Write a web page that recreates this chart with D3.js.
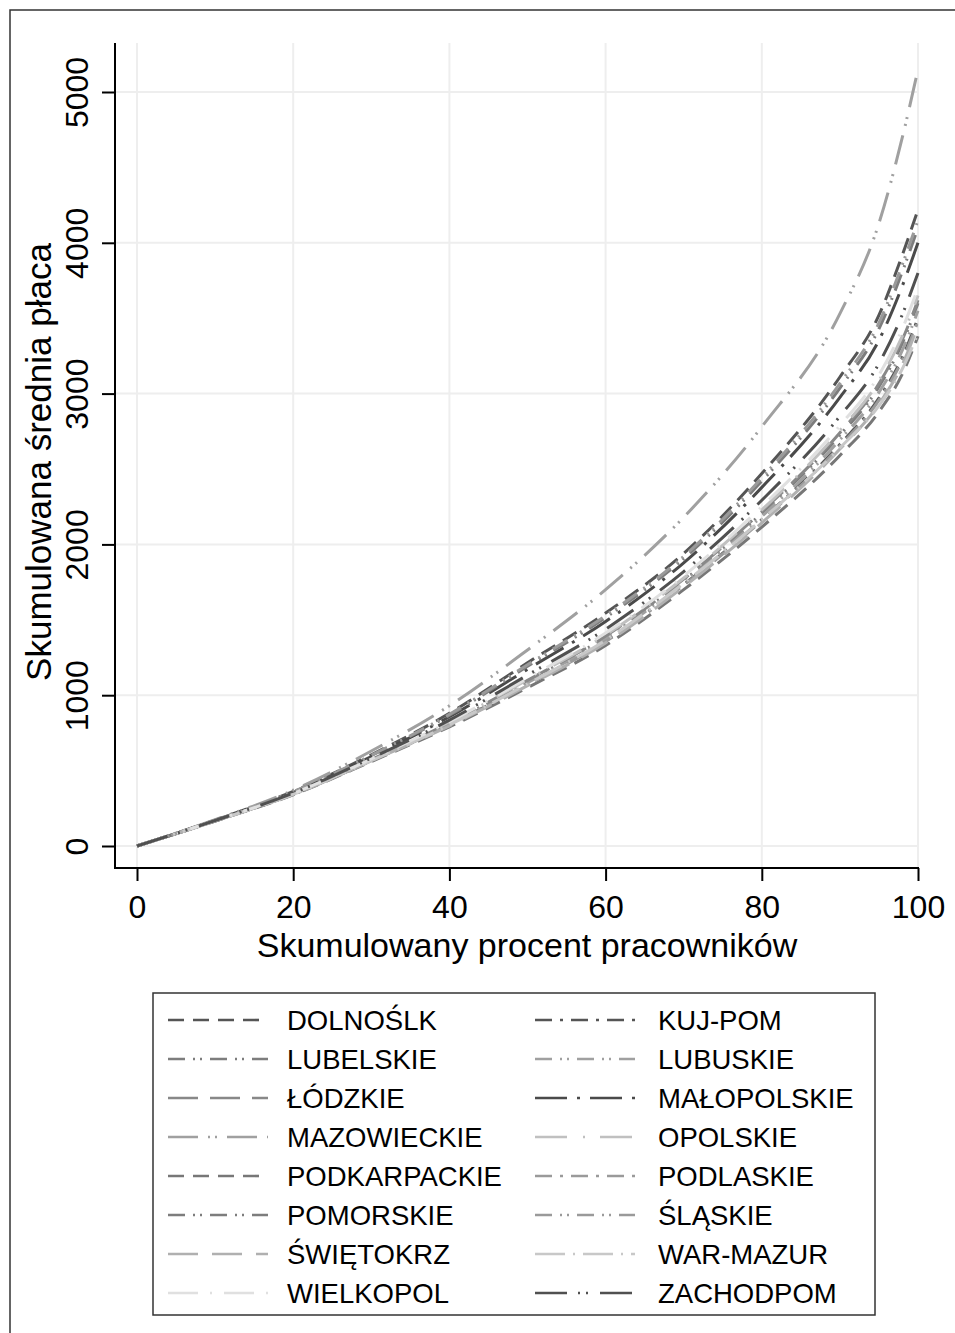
<!DOCTYPE html>
<html><head><meta charset="utf-8">
<script src="https://cdn.jsdelivr.net/npm/d3@7"></script>
<style>
body{margin:0;background:#fff}
text{font-family:"Liberation Sans",Arial,Helvetica,sans-serif;fill:#000}
</style>
</head><body>
<svg id="c" width="955" height="1333"></svg>
<script>
// Cumulative percent of workers (x positions of the read points)
const xPoints = [0,10,20,30,40,50,60,70,80,90,95,98,100];
const xTicks = [0,20,40,60,80,100];
const yTicks = [0,1000,2000,3000,4000,5000];

const regions = ["DOLNOŚLK","KUJ-POM","LUBELSKIE","LUBUSKIE","ŁÓDZKIE","MAŁOPOLSKIE",
  "MAZOWIECKIE","OPOLSKIE","PODKARPACKIE","PODLASKIE","POMORSKIE","ŚLĄSKIE",
  "ŚWIĘTOKRZ","WAR-MAZUR","WIELKOPOL","ZACHODPOM"];

const dolnoslk     = [0,172,362,605,880,1215,1545,1940,2470,3110,3520,3920,4220];
const kujpom       = [0,166,343,566,803,1073,1360,1734,2165,2663,2970,3241,3500];
const lubelskie    = [0,167,346,572,813,1093,1386,1762,2207,2725,3046,3335,3600];
const lubuskie     = [0,166,344,569,808,1083,1373,1748,2186,2694,3008,3288,3550];
const lodzkie      = [0,167,346,573,816,1098,1392,1770,2218,2741,3066,3359,3620];
const malopolskie  = [0,170,356,593,857,1172,1489,1878,2378,2975,3354,3715,4000];
const mazowieckie  = [0,175,370,630,930,1300,1700,2180,2780,3530,4130,4700,5150];
const opolskie     = [0,167,347,574,819,1103,1399,1777,2229,2756,3085,3383,3650];
const podkarpackie = [0,165,340,560,790,1050,1330,1700,2115,2590,2880,3130,3380];
const podlaskie    = [0,166,343,565,801,1070,1356,1729,2158,2652,2957,3225,3480];
const pomorskie    = [0,171,359,599,867,1192,1515,1906,2420,3037,3430,3809,4100];
const slaskie      = [0,171,360,601,873,1202,1528,1921,2442,3068,3469,3857,4150];
const swietokrz    = [0,166,342,564,797,1063,1347,1719,2143,2632,2931,3193,3450];
const warmazur     = [0,166,343,566,803,1075,1365,1742,2165,2640,2920,3165,3400];
const wielkopol    = [0,168,348,577,824,1113,1412,1791,2250,2788,3123,3430,3700];
const zachodpom    = [0,169,351,583,835,1133,1438,1820,2293,2850,3200,3525,3800];

const seriesValues = [dolnoslk,kujpom,lubelskie,lubuskie,lodzkie,malopolskie,mazowieckie,
  opolskie,podkarpackie,podlaskie,pomorskie,slaskie,swietokrz,warmazur,wielkopol,zachodpom];

const colors = ["#555","#555","#7d7d7d","#a0a0a0","#888","#4a4a4a","#a0a0a0","#c0c0c0",
  "#777","#9a9a9a","#7d7d7d","#9a9a9a","#b0b0b0","#c8c8c8","#e0e0e0","#505050"];
const dashes = ["16,9","17,8,3,8","17,8,2,5,2,8","17,8,2,5,2,8","30,12","32,10,3,10",
  "30,10,2,5,2,10","32,16,2,15","16,9","17,8,3,8","17,8,2,5,2,8","17,8,2,5,2,8",
  "30,14","30,8,2,8","30,12,2,12","32,11,2,6,2,12"];

const svg = d3.select("#c");
svg.append("rect").attr("x",10).attr("y",10).attr("width",1000).attr("height",1400)
  .attr("fill","none").attr("stroke","#333").attr("stroke-width",1.5);

const x = d3.scaleLinear().domain([0,100]).range([137,918]);
const y = d3.scaleLinear().domain([0,5000]).range([846,92]);
const plotLeft = 115, plotBottom = 868, plotTop = 43, plotRight = 918;

// gridlines
svg.append("g").selectAll("line").data(yTicks).join("line")
  .attr("x1",plotLeft).attr("x2",plotRight).attr("y1",d=>y(d)).attr("y2",d=>y(d))
  .attr("stroke","#eeeeee").attr("stroke-width",2);
svg.append("g").selectAll("line").data(xTicks).join("line")
  .attr("x1",d=>x(d)).attr("x2",d=>x(d)).attr("y1",plotTop).attr("y2",plotBottom)
  .attr("stroke","#eeeeee").attr("stroke-width",2);

// series
const line = d3.line().x((d,i)=>x(xPoints[i])).y(d=>y(d)).curve(d3.curveMonotoneX);
svg.append("g").selectAll("path").data(seriesValues).join("path")
  .attr("d",d=>line(d)).attr("fill","none")
  .attr("stroke",(d,i)=>colors[i]).attr("stroke-width",3)
  .attr("stroke-dasharray",(d,i)=>dashes[i]);

// axes
const yAxis = svg.append("g").attr("transform",`translate(${plotLeft},0)`)
  .call(d3.axisLeft(y).tickValues(yTicks).tickFormat(d3.format("d")).tickSize(13).tickSizeOuter(0));
yAxis.select(".domain").remove();
yAxis.selectAll(".tick line").attr("stroke","#000").attr("stroke-width",2);
yAxis.selectAll(".tick text").attr("x",null).attr("dy",null)
  .attr("transform","translate(-27,0) rotate(-90)").attr("text-anchor","middle")
  .style("font-size","32px").style("font-family","'Liberation Sans',Arial,sans-serif").attr("fill","#000");
svg.append("line").attr("x1",plotLeft).attr("x2",plotLeft).attr("y1",plotTop).attr("y2",plotBottom+1)
  .attr("stroke","#000").attr("stroke-width",2);

const xAxis = svg.append("g").attr("transform",`translate(0,${plotBottom})`)
  .call(d3.axisBottom(x).tickValues(xTicks).tickFormat(d3.format("d")).tickSize(13).tickSizeOuter(0));
xAxis.select(".domain").remove();
xAxis.selectAll(".tick line").attr("stroke","#000").attr("stroke-width",2);
xAxis.selectAll(".tick text").attr("y",50).attr("dy",null)
  .style("font-size","32px").style("font-family","'Liberation Sans',Arial,sans-serif").attr("fill","#000");
svg.append("line").attr("x1",plotLeft-1).attr("x2",plotRight+1).attr("y1",plotBottom).attr("y2",plotBottom)
  .attr("stroke","#000").attr("stroke-width",2);

// axis titles
svg.append("text").attr("x",527).attr("y",957).attr("text-anchor","middle")
  .style("font-size","34px").text("Skumulowany procent pracowników");
svg.append("text").attr("transform","translate(51,462) rotate(-90)").attr("text-anchor","middle")
  .style("font-size","35px").text("Skumulowana średnia płaca");

// legend
svg.append("rect").attr("x",153).attr("y",993).attr("width",722).attr("height",322)
  .attr("fill","#fff").attr("stroke","#333").attr("stroke-width",1.5);
const leg = svg.append("g").selectAll("g").data(regions).join("g")
  .attr("transform",(d,i)=>`translate(${i%2===0?168:535},${1020+Math.floor(i/2)*39})`);
leg.append("line").attr("x1",0).attr("x2",100).attr("y1",0).attr("y2",0)
  .attr("stroke",(d,i)=>colors[i]).attr("stroke-width",2.6)
  .attr("stroke-dasharray",(d,i)=>dashes[i]);
leg.append("text").attr("x",(d,i)=>i%2===0?119:123).attr("y",10)
  .style("font-size","27.5px").text(d=>d);
</script>
</body></html>
